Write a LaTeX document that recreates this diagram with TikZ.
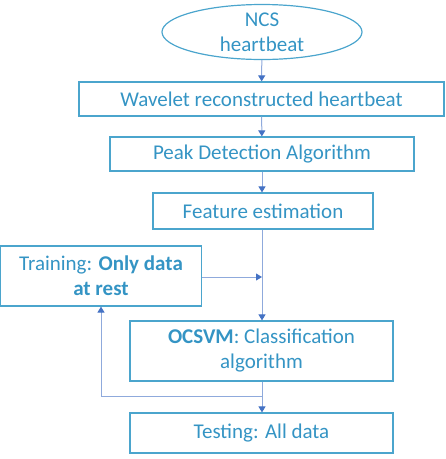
\documentclass[tikz,border=0pt]{standalone}
\usepackage{fontspec}
\setmainfont{Carlito}
\usetikzlibrary{shapes.geometric,arrows.meta}
\definecolor{boxblue}{RGB}{75,165,205}
\definecolor{textblue}{RGB}{52,148,196}
\definecolor{linkblue}{RGB}{143,170,220}
\definecolor{tipblue}{RGB}{68,114,196}
\tikzset{
  stepbox/.style={draw=boxblue, line width=1.2pt, text=textblue, inner sep=0pt, align=center,
    font=\fontsize{21}{25}\selectfont},
  link/.style={draw=linkblue, line width=1pt, -{Triangle[length=6pt,width=7pt,color=tipblue]}},
}

\begin{document}
\begin{tikzpicture}[x=1pt,y=-1pt]
            \useasboundingbox (0,0) rectangle (446,459);
            \node[stepbox, ellipse, minimum width=200pt, minimum height=55pt](ncs)at(262, 32){NCS\\heartbeat};
            \node[stepbox, minimum width=365pt, minimum height=34pt](wav)at(261.5, 99){Wavelet reconstructed heartbeat};
            \node[stepbox, minimum width=304pt, minimum height=34pt](peak)at(262, 154){Peak Detection Algorithm};
            \node[stepbox, minimum width=220pt, minimum height=36pt](feat)at(263, 211){Feature estimation};
            \node[stepbox, minimum width=201pt, minimum height=60pt](train)at(101, 276){Training: \textbf{Only data}\\\textbf{at rest}};
            \node[stepbox, minimum width=263pt, minimum height=60pt](ocsvm)at(261.5, 351){\textbf{OCSVM}: Classification\\algorithm};
            \node[stepbox, minimum width=263pt, minimum height=40pt](test)at(261.5, 433){Testing: All data};
            \coordinate(join)at(262, 277);
            \coordinate(split)at(262, 396);
            \draw[link](ncs)--(wav);
            \draw[link](wav)--(peak);
            \draw[link](peak.south)--(feat.north -| peak.south);
            \draw[link](feat.south -| join)--(ocsvm.north -| join);
            \draw[link](train.east |- join)--(join);
            \draw[link](ocsvm.south -| split)--(test.north -| split);
            \draw[link](split)-|(train.south);
        \end{tikzpicture}
\end{document}
